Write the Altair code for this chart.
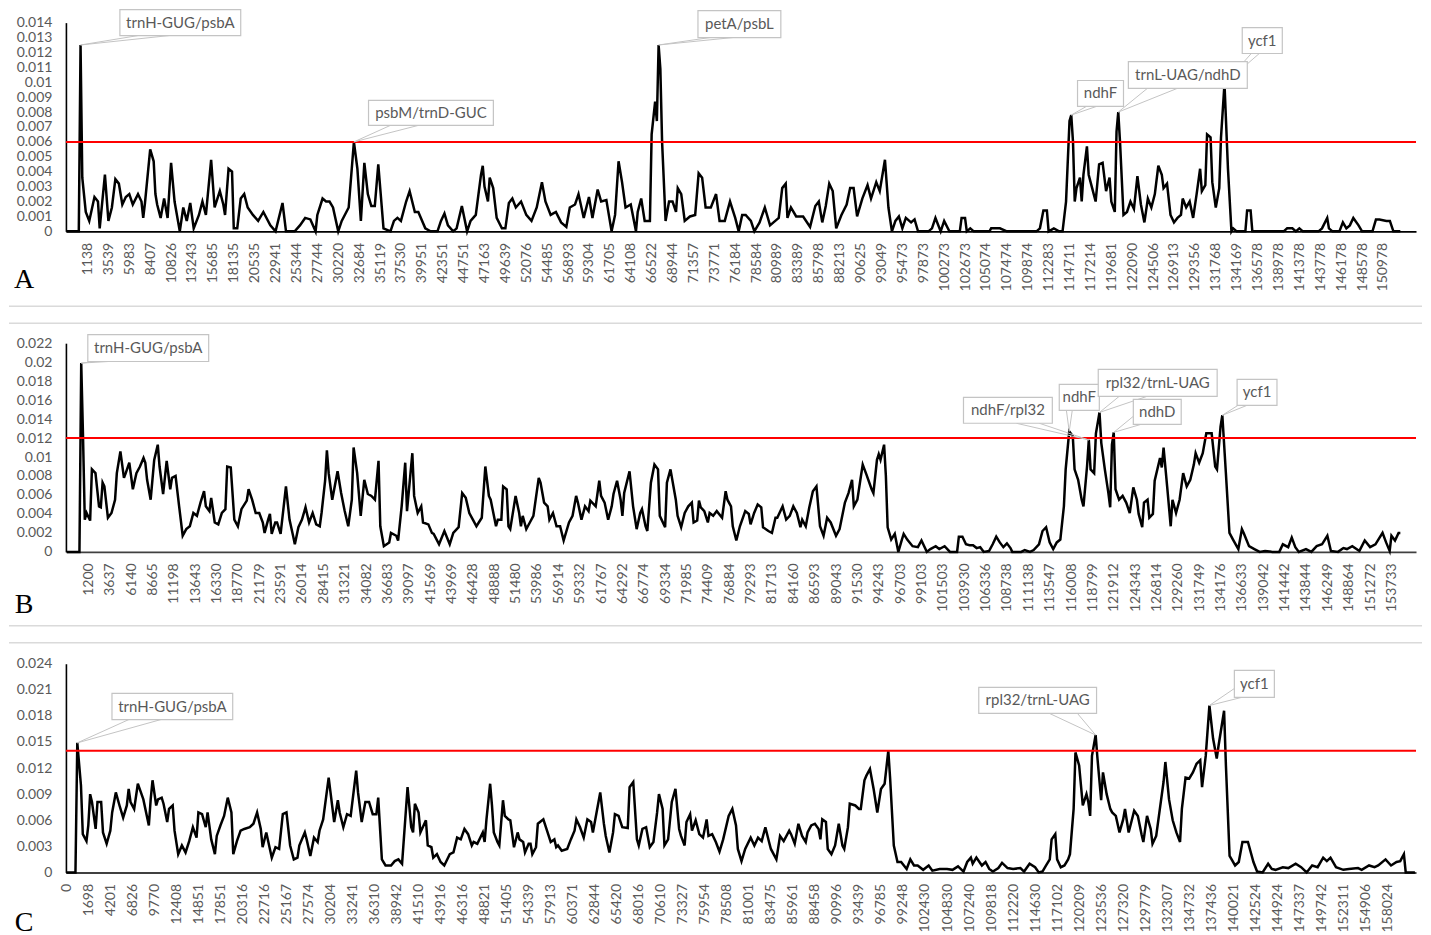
import altair as alt
import pandas as pd

# ---------------- Panel A ----------------
W_A = [-12, -5, -4, -3, -1, 1, 4, 6, 7, 10,
       12, 14, 16, 18, 20, 22, 24, 26, 29, 31,
       32, 33, 36, 38, 39, 40, 42, 44, 46, 48,
       50, 53, 55, 57, 59, 61, 64, 66, 68, 71,
       73, 76, 78, 79, 81, 83, 84, 86, 88, 90,
       92, 95, 98, 101, 105, 108, 112, 114, 119, 122,
       125, 128, 131, 132, 135, 137, 139, 141, 144, 146,
       150, 153, 155, 157, 159, 161, 163, 165, 167, 170,
       174, 176, 178, 180, 183, 185, 188, 190, 194, 197,
       201, 203, 205, 207, 210, 212, 215, 218, 220, 223,
       226, 227, 228, 230, 231, 233, 235, 238, 240, 242,
       244, 246, 249, 252, 255, 258, 261, 263, 266, 269,
       272, 275, 277, 280, 282, 285, 288, 290, 293, 295,
       298, 301, 303, 305, 307, 309, 312, 315, 316, 318,
       320, 323, 324, 326, 327, 328, 329, 330, 332, 334,
       336, 338, 339, 341, 343, 346, 349, 351, 353, 355,
       358, 361, 363, 366, 369, 372, 374, 376, 378, 381,
       383, 386, 389, 392, 395, 397, 399, 401, 402, 404,
       407, 411, 415, 418, 420, 422, 424, 426, 428, 430,
       433, 436, 438, 440, 442, 445, 448, 450, 453, 455,
       458, 460, 462, 464, 466, 468, 470, 473, 475, 477,
       483, 485, 487, 490, 492, 495, 501, 502, 504, 505,
       507, 509, 518, 519, 524, 528, 545, 547, 549, 551,
       552, 555, 558, 560, 562, 564, 565, 566, 567, 568,
       570, 571, 572, 574, 575, 577, 579, 581, 583, 585,
       587, 588, 590, 591, 592, 593, 595, 597, 599, 601,
       603, 605, 607, 609, 611, 613, 615, 617, 618, 620,
       622, 624, 626, 628, 629, 631, 633, 635, 637, 639,
       640, 642, 643, 645, 646, 648, 650, 651, 653, 655,
       657, 658, 660, 665, 666, 668, 669, 687, 689, 692,
       694, 696, 698, 707, 709, 712, 713, 715, 719, 721,
       723, 725, 727, 730, 732, 738, 740, 742, 746, 748,
       750, 754]
PI_A = [0, 0, 0.0125, 0.0036, 0.0013, 0.0007, 0.0023, 0.0020, 0.0002, 0.0038,
        0.0007, 0.0016, 0.0035, 0.0032, 0.0018, 0.0023, 0.0025, 0.0018, 0.0025, 0.0020,
        0.0009, 0.0019, 0.0055, 0.0047, 0.0025, 0.0018, 0.0009, 0.0022, 0.0009, 0.0046,
        0.0020, 0, 0.0016, 0.0007, 0.0019, 0.0002, 0.0011, 0.0020, 0.0011, 0.0048,
        0.0016, 0.0027, 0.0018, 0.0011, 0.0042, 0.0040, 0.0002, 0.0002, 0.0022, 0.0025,
        0.0016, 0.0011, 0.0007, 0.0013, 0.0004, 0, 0.0019, 0, 0, 0.0004,
        0.0009, 0.0008, 0, 0.0011, 0.0022, 0.0020, 0.0020, 0.0016, 0, 0.0007,
        0.0016, 0.0060, 0.0042, 0.0007, 0.0046, 0.0025, 0.0017, 0.0017, 0.0045, 0.0002,
        0, 0.0007, 0.0009, 0.0007, 0.0020, 0.0027, 0.0013, 0.0013, 0.0002, 0,
        0, 0.0007, 0.0012, 0.0004, 0, 0.0002, 0.0017, 0, 0.0007, 0.0011,
        0.0038, 0.0044, 0.0030, 0.0020, 0.0036, 0.0029, 0.0009, 0.0002, 0.0002, 0.0019,
        0.0022, 0.0016, 0.0020, 0.0011, 0.0007, 0.0016, 0.0033, 0.0020, 0.0011, 0.0013,
        0.0006, 0.0003, 0.0016, 0.0018, 0.0025, 0.0009, 0.0023, 0.0009, 0.0028, 0.0020,
        0.0021, 0, 0.0011, 0.0047, 0.0033, 0.0016, 0.0018, 0, 0.0013, 0.0022,
        0.0007, 0.0007, 0.0065, 0.0087, 0.0074, 0.0125, 0.0109, 0.0060, 0.0007, 0.0020,
        0.0020, 0.0013, 0.0029, 0.0025, 0.0007, 0.0010, 0.0011, 0.0039, 0.0036, 0.0016,
        0.0016, 0.0025, 0.0007, 0.0007, 0.0020, 0.0009, 0, 0.0011, 0.0011, 0.0007,
        0, 0.0006, 0.0016, 0.0004, 0.0007, 0.0009, 0.0029, 0.0032, 0.0009, 0.0016,
        0.0010, 0.0010, 0.0003, 0.0017, 0.0020, 0.0006, 0.0017, 0.0032, 0.0027, 0.0002,
        0.0011, 0.0018, 0.0029, 0.0029, 0.0010, 0.0022, 0.0031, 0.0022, 0.0033, 0.0027,
        0.0048, 0.0016, 0, 0.0007, 0.0010, 0.0002, 0.0009, 0.0006, 0.0008, 0,
        0, 0.0002, 0.0009, 0, 0.0007, 0, 0, 0.0009, 0.0009, 0,
        0.0002, 0, 0, 0.0002, 0.0002, 0, 0, 0.0002, 0.0014, 0.0014,
        0, 0.0002, 0, 0, 0.0020, 0.0074, 0.0078, 0.0060, 0.0020, 0.0029,
        0.0036, 0.0020, 0.0038, 0.0057, 0.0038, 0.0029, 0.0020, 0.0045, 0.0046, 0.0027,
        0.0036, 0.0020, 0.0013, 0.0067, 0.0080, 0.0060, 0.0011, 0.0013, 0.0020, 0.0015,
        0.0037, 0.0018, 0.0006, 0.0022, 0.0016, 0.0025, 0.0044, 0.0038, 0.0029, 0.0032,
        0.0011, 0.0006, 0.0009, 0.0011, 0.0022, 0.0016, 0.0020, 0.0009, 0.0025, 0.0042,
        0.0027, 0.0031, 0.0065, 0.0063, 0.0033, 0.0016, 0.0029, 0.0063, 0.0099, 0.0042,
        0, 0.0002, 0, 0, 0.0014, 0.0014, 0, 0, 0.0002, 0.0002,
        0, 0.0002, 0, 0, 0.0002, 0.0009, 0.0002, 0, 0, 0.0006,
        0.0002, 0.0004, 0.0009, 0.0004, 0, 0, 0.0008, 0.0008, 0.0007, 0.0007,
        0, 0]
LABELS_A = ["1138", "3539", "5983", "8407", "10826", "13243", "15685", "18135", "20535",
            "22941", "25344", "27744", "30220", "32684", "35119", "37530", "39951", "42351",
            "44751", "47163", "49639", "52076", "54485", "56893", "59304", "61705", "64108",
            "66522", "68944", "71357", "73771", "76184", "78584", "80989", "83389", "85798",
            "88213", "90625", "93049", "95473", "97873", "100273", "102673", "105074",
            "107474", "109874", "112283", "114711", "117214", "119681", "122090", "124506",
            "126913", "129356", "131768", "134169", "136578", "138978", "141378", "143778",
            "146178", "148578", "150978"]
YTICKS_A = [0, 0.001, 0.002, 0.003, 0.004, 0.005, 0.006, 0.007, 0.008, 0.009,
            0.01, 0.011, 0.012, 0.013, 0.014]
THRESH_A = 0.006

# ---------------- Panel B ----------------
W_B = [-12, -5, -4, -3, -2, -1, 1, 2, 4, 6,
       7, 8, 9, 11, 13, 15, 16, 18, 20, 21,
       23, 25, 27, 29, 31, 32, 33, 35, 37, 39,
       40, 42, 44, 46, 47, 49, 51, 53, 55, 57,
       59, 61, 63, 65, 66, 68, 69, 71, 73, 75,
       77, 78, 80, 82, 84, 86, 89, 90, 92, 94,
       96, 98, 99, 101, 102, 103, 105, 106, 108, 111,
       113, 115, 116, 118, 120, 122, 124, 126, 128, 130,
       131, 133, 134, 135, 137, 140, 142, 144, 146, 148,
       149, 151, 153, 155, 157, 159, 161, 163, 164, 166,
       169, 170, 173, 174, 176, 178, 179, 182, 183, 185,
       187, 188, 191, 193, 194, 197, 200, 203, 205, 208,
       210, 212, 214, 216, 218, 221, 223, 225, 226, 229,
       230, 232, 233, 235, 236, 237, 240, 242, 243, 244,
       246, 248, 250, 253, 254, 256, 258, 259, 261, 263,
       265, 267, 270, 272, 274, 275, 277, 279, 281, 282,
       285, 287, 288, 290, 292, 294, 295, 297, 299, 300,
       301, 304, 306, 308, 310, 311, 313, 314, 316, 318,
       320, 321, 324, 325, 327, 330, 331, 333, 335, 337,
       339, 340, 342, 343, 344, 346, 348, 349, 351, 353,
       356, 358, 359, 361, 362, 364, 366, 369, 371, 372,
       374, 376, 378, 379, 382, 384, 386, 387, 390, 392,
       394, 396, 398, 400, 401, 403, 405, 407, 409, 411,
       413, 415, 417, 420, 422, 425, 427, 429, 430, 432,
       434, 435, 437, 440, 441, 443, 444, 445, 447, 448,
       449, 451, 453, 455, 457, 458, 460, 463, 466, 468,
       471, 473, 476, 478, 481, 484, 488, 489, 491, 493,
       495, 497, 499, 501, 503, 506, 508, 510, 512, 514,
       516, 518, 519, 524, 526, 529, 531, 534, 536, 538,
       540, 542, 544, 546, 548, 549, 551, 553, 554, 556,
       558, 559, 561, 562, 563, 565, 566, 568, 569, 571,
       573, 574, 575, 576, 577, 579, 581, 583, 585, 587,
       589, 590, 592, 593, 595, 596, 598, 599, 602, 603,
       604, 606, 608, 609, 611, 613, 615, 617, 619, 621,
       622, 624, 626, 628, 631, 633, 634, 636, 637, 639,
       641, 643, 646, 648, 649, 652, 655, 658, 661, 665,
       669, 671, 674, 676, 678, 680, 684, 687, 690, 693,
       696, 698, 702, 705, 707, 710, 714, 717, 720, 723,
       727, 729, 731, 732, 734, 736, 737]
PI_B = [0, 0, 0.0199, 0.0122, 0.0034, 0.0041, 0.0033, 0.0087, 0.0083, 0.0048,
        0.0047, 0.0073, 0.0069, 0.0036, 0.0041, 0.0055, 0.0083, 0.0106, 0.0078, 0.0083,
        0.0094, 0.0066, 0.0083, 0.0090, 0.0099, 0.0094, 0.0076, 0.0055, 0.0097, 0.0113,
        0.0090, 0.0061, 0.0096, 0.0066, 0.0078, 0.0080, 0.0048, 0.0017, 0.0024, 0.0027,
        0.0041, 0.0038, 0.0052, 0.0064, 0.0048, 0.0043, 0.0057, 0.0031, 0.0029, 0.0041,
        0.0045, 0.0090, 0.0089, 0.0034, 0.0027, 0.0045, 0.0054, 0.0066, 0.0055, 0.0041,
        0.0041, 0.0031, 0.0020, 0.0034, 0.0040, 0.0019, 0.0031, 0.0031, 0.0019, 0.0069,
        0.0034, 0.0017, 0.0008, 0.0026, 0.0034, 0.0047, 0.0031, 0.0041, 0.0029, 0.0027,
        0.0041, 0.0075, 0.0107, 0.0083, 0.0055, 0.0085, 0.0062, 0.0043, 0.0027, 0.0055,
        0.0110, 0.0083, 0.0038, 0.0076, 0.0061, 0.0059, 0.0055, 0.0096, 0.0027, 0.0006,
        0.0010, 0.0020, 0.0017, 0.0012, 0.0048, 0.0094, 0.0043, 0.0104, 0.0059, 0.0041,
        0.0048, 0.0031, 0.0029, 0.0020, 0.0019, 0.0008, 0.0022, 0.0008, 0.0020, 0.0026,
        0.0062, 0.0057, 0.0041, 0.0034, 0.0027, 0.0036, 0.0090, 0.0059, 0.0055, 0.0027,
        0.0034, 0.0034, 0.0069, 0.0066, 0.0027, 0.0024, 0.0059, 0.0041, 0.0027, 0.0038,
        0.0024, 0.0031, 0.0038, 0.0078, 0.0073, 0.0052, 0.0048, 0.0034, 0.0041, 0.0027,
        0.0027, 0.0012, 0.0031, 0.0038, 0.0059, 0.0052, 0.0034, 0.0048, 0.0043, 0.0054,
        0.0048, 0.0075, 0.0059, 0.0052, 0.0034, 0.0048, 0.0061, 0.0075, 0.0055, 0.0038,
        0.0062, 0.0085, 0.0048, 0.0024, 0.0041, 0.0045, 0.0027, 0.0022, 0.0073, 0.0092,
        0.0087, 0.0038, 0.0026, 0.0073, 0.0087, 0.0055, 0.0038, 0.0026, 0.0041, 0.0048,
        0.0052, 0.0031, 0.0033, 0.0054, 0.0047, 0.0043, 0.0031, 0.0041, 0.0038, 0.0043,
        0.0036, 0.0064, 0.0055, 0.0048, 0.0027, 0.0012, 0.0027, 0.0043, 0.0040, 0.0029,
        0.0041, 0.0050, 0.0047, 0.0026, 0.0022, 0.0020, 0.0036, 0.0036, 0.0048, 0.0034,
        0.0038, 0.0048, 0.0041, 0.0026, 0.0034, 0.0027, 0.0047, 0.0064, 0.0069, 0.0027,
        0.0017, 0.0036, 0.0031, 0.0017, 0.0024, 0.0052, 0.0062, 0.0076, 0.0048, 0.0055,
        0.0080, 0.0092, 0.0082, 0.0066, 0.0062, 0.0097, 0.0103, 0.0097, 0.0113, 0.0080,
        0.0026, 0.0013, 0.0019, 0, 0.0013, 0.0019, 0.0013, 0.0006, 0.0005, 0.0012,
        0, 0.0003, 0.0006, 0.0003, 0.0006, 0, 0, 0.0016, 0.0016, 0.0008,
        0.0007, 0.0007, 0.0004, 0.0005, 0, 0.0001, 0.0008, 0.0016, 0.0010, 0.0005,
        0.0009, 0.0004, 0, 0, 0.0002, 0, 0.0002, 0.0008, 0.0022, 0.0026,
        0.0010, 0.0003, 0.0010, 0.0013, 0.0048, 0.0087, 0.0127, 0.0122, 0.0087, 0.0076,
        0.0055, 0.0048, 0.0090, 0.0118, 0.0087, 0.0083, 0.0125, 0.0147, 0.0115, 0.0087,
        0.0062, 0.0047, 0.0113, 0.0126, 0.0066, 0.0055, 0.0059, 0.0052, 0.0041, 0.0068,
        0.0055, 0.0040, 0.0026, 0.0052, 0.0055, 0.0036, 0.0040, 0.0075, 0.0099, 0.0089,
        0.0110, 0.0069, 0.0027, 0.0055, 0.0041, 0.0055, 0.0083, 0.0069, 0.0076, 0.0092,
        0.0104, 0.0094, 0.0104, 0.0125, 0.0125, 0.0090, 0.0087, 0.0132, 0.0144, 0.0083,
        0.0020, 0.0013, 0.0003, 0.0024, 0.0020, 0.0006, 0.0003, 0, 0.0001, 0,
        0, 0.0008, 0.0005, 0.0015, 0.0005, 0, 0.0003, 0, 0.0006, 0.0008,
        0.0017, 0.0001, 0, 0.0004, 0.0003, 0.0006, 0.0001, 0.0012, 0.0005, 0.0008,
        0.0020, 0.0010, 0.0001, 0.0017, 0.0012, 0.0020, 0.0020]
LABELS_B = ["1200", "3637", "6140", "8665", "11198", "13643", "16330", "18770", "21179",
            "23591", "26014", "28415", "31321", "34082", "36683", "39097", "41569", "43969",
            "46428", "48888", "51480", "53986", "56914", "59332", "61767", "64292", "66774",
            "69334", "71985", "74409", "76884", "79293", "81713", "84160", "86593", "89043",
            "91530", "94243", "96703", "99103", "101503", "103930", "106336", "108738",
            "111138", "113547", "116008", "118799", "121912", "124343", "126814", "129260",
            "131749", "134176", "136633", "139042", "141442", "143844", "146249", "148864",
            "151272", "153733"]
YTICKS_B = [0, 0.002, 0.004, 0.006, 0.008, 0.01, 0.012, 0.014, 0.016, 0.018, 0.02, 0.022]
THRESH_B = 0.012

# ---------------- Panel C ----------------
W_C = [0, 5, 6, 8, 9, 11, 12, 13, 14, 16,
       17, 19, 20, 22, 24, 25, 27, 29, 31, 33,
       34, 35, 37, 39, 40, 42, 45, 46, 47, 49,
       50, 52, 53, 55, 56, 58, 59, 61, 63, 65,
       67, 69, 71, 72, 74, 76, 77, 79, 81, 82,
       84, 86, 88, 90, 91, 93, 95, 97, 100, 102,
       104, 106, 107, 109, 112, 114, 116, 118, 120, 122,
       124, 126, 127, 130, 131, 133, 135, 137, 138, 140,
       143, 144, 146, 148, 149, 151, 153, 155, 158, 159,
       161, 163, 165, 167, 169, 170, 172, 174, 177, 179,
       181, 183, 186, 188, 189, 190, 192, 193, 196, 197,
       199, 200, 202, 204, 206, 209, 211, 213, 215, 217,
       219, 221, 222, 224, 227, 228, 229, 231, 232, 233,
       235, 236, 238, 239, 241, 242, 244, 246, 247, 249,
       250, 252, 253, 254, 256, 257, 260, 262, 264, 266,
       267, 268, 270, 273, 275, 277, 278, 280, 282, 284,
       286, 287, 289, 291, 293, 294, 296, 298, 299, 301,
       303, 306, 307, 309, 311, 312, 314, 316, 318, 320,
       322, 323, 325, 326, 328, 330, 332, 334, 335, 337,
       338, 340, 341, 343, 345, 347, 349, 350, 352, 354,
       356, 358, 361, 363, 365, 366, 368, 370, 373, 375,
       377, 379, 381, 383, 384, 387, 389, 391, 394, 395,
       397, 399, 401, 403, 404, 406, 408, 410, 411, 412,
       414, 415, 417, 419, 421, 423, 424, 426, 427, 430,
       432, 433, 435, 436, 438, 440, 442, 444, 446, 448,
       449, 451, 453, 455, 458, 460, 462, 464, 467, 470,
       472, 476, 480, 483, 486, 489, 491, 493, 494, 496,
       499, 501, 503, 505, 508, 510, 513, 516, 520, 522,
       525, 528, 530, 532, 534, 536, 537, 539, 540, 542,
       544, 546, 547, 549, 550, 552, 554, 556, 557, 558,
       559, 561, 562, 564, 565, 567, 569, 570, 572, 574,
       576, 577, 579, 582, 584, 586, 587, 589, 591, 592,
       594, 596, 598, 599, 601, 603, 605, 607, 608, 610,
       612, 614, 616, 618, 619, 621, 623, 625, 627, 628,
       631, 632, 634, 637, 639, 641, 644, 647, 649, 652,
       655, 657, 659, 663, 666, 670, 673, 676, 679, 682,
       685, 687, 689, 692, 696, 699, 704, 706, 710, 713,
       715, 719, 722, 725, 727, 729, 730, 735]
PI_C = [0, 0, 0.0149, 0.0100, 0.0044, 0.0036, 0.0054, 0.0090, 0.0081, 0.0050,
        0.0081, 0.0081, 0.0046, 0.0033, 0.0048, 0.0069, 0.0092, 0.0077, 0.0063, 0.0077,
        0.0096, 0.0081, 0.0073, 0.0102, 0.0096, 0.0084, 0.0054, 0.0084, 0.0106, 0.0077,
        0.0084, 0.0086, 0.0079, 0.0058, 0.0073, 0.0077, 0.0048, 0.0021, 0.0031, 0.0023,
        0.0036, 0.0052, 0.0040, 0.0069, 0.0067, 0.0052, 0.0069, 0.0038, 0.0021, 0.0042,
        0.0054, 0.0065, 0.0086, 0.0069, 0.0021, 0.0036, 0.0048, 0.0050, 0.0052, 0.0056,
        0.0069, 0.0050, 0.0029, 0.0046, 0.0017, 0.0029, 0.0027, 0.0067, 0.0069, 0.0031,
        0.0015, 0.0017, 0.0031, 0.0046, 0.0038, 0.0019, 0.0040, 0.0035, 0.0048, 0.0061,
        0.0109, 0.0092, 0.0058, 0.0083, 0.0069, 0.0052, 0.0067, 0.0065, 0.0117, 0.0092,
        0.0058, 0.0081, 0.0081, 0.0067, 0.0067, 0.0086, 0.0015, 0.0008, 0.0008, 0.0013,
        0.0015, 0.0010, 0.0098, 0.0052, 0.0046, 0.0079, 0.0069, 0.0046, 0.0060, 0.0031,
        0.0029, 0.0017, 0.0021, 0.0012, 0.0008, 0.0021, 0.0023, 0.0040, 0.0038, 0.0050,
        0.0044, 0.0031, 0.0035, 0.0033, 0.0046, 0.0035, 0.0061, 0.0102, 0.0077, 0.0046,
        0.0035, 0.0031, 0.0083, 0.0065, 0.0061, 0.0060, 0.0029, 0.0046, 0.0038, 0.0035,
        0.0023, 0.0033, 0.0033, 0.0021, 0.0029, 0.0056, 0.0061, 0.0048, 0.0035, 0.0038,
        0.0029, 0.0031, 0.0025, 0.0027, 0.0038, 0.0048, 0.0061, 0.0052, 0.0040, 0.0061,
        0.0058, 0.0046, 0.0069, 0.0092, 0.0056, 0.0042, 0.0023, 0.0046, 0.0067, 0.0065,
        0.0052, 0.0051, 0.0098, 0.0104, 0.0038, 0.0031, 0.0050, 0.0052, 0.0029, 0.0035,
        0.0069, 0.0090, 0.0073, 0.0031, 0.0038, 0.0081, 0.0096, 0.0050, 0.0042, 0.0031,
        0.0058, 0.0067, 0.0048, 0.0060, 0.0044, 0.0040, 0.0061, 0.0042, 0.0044, 0.0035,
        0.0024, 0.0038, 0.0065, 0.0073, 0.0054, 0.0027, 0.0013, 0.0027, 0.0040, 0.0031,
        0.0040, 0.0036, 0.0052, 0.0035, 0.0027, 0.0015, 0.0042, 0.0036, 0.0048, 0.0044,
        0.0033, 0.0056, 0.0042, 0.0035, 0.0046, 0.0054, 0.0056, 0.0050, 0.0038, 0.0061,
        0.0058, 0.0027, 0.0021, 0.0031, 0.0056, 0.0031, 0.0027, 0.0052, 0.0079, 0.0077,
        0.0073, 0.0073, 0.0106, 0.0111, 0.0119, 0.0096, 0.0069, 0.0096, 0.0102, 0.0140,
        0.0108, 0.0031, 0.0012, 0.0012, 0.0004, 0.0015, 0.0008, 0.0008, 0.0003, 0.0008,
        0.0002, 0.0004, 0.0004, 0.0003, 0.0007, 0.0001, 0.0012, 0.0017, 0.0010, 0.0017,
        0.0008, 0.0012, 0.0004, 0.0001, 0.0005, 0.0011, 0.0005, 0.0004, 0.0005, 0.0001,
        0.0010, 0.0006, 0, 0.0001, 0.0008, 0.0015, 0.0038, 0.0044, 0.0015, 0.0006,
        0.0008, 0.0015, 0.0021, 0.0073, 0.0138, 0.0123, 0.0077, 0.0090, 0.0081, 0.0065,
        0.0134, 0.0158, 0.0131, 0.0083, 0.0115, 0.0090, 0.0073, 0.0069, 0.0065, 0.0046,
        0.0061, 0.0073, 0.0046, 0.0071, 0.0065, 0.0044, 0.0035, 0.0065, 0.0050, 0.0033,
        0.0042, 0.0073, 0.0104, 0.0127, 0.0084, 0.0060, 0.0046, 0.0035, 0.0073, 0.0109,
        0.0108, 0.0115, 0.0125, 0.0129, 0.0098, 0.0134, 0.0192, 0.0154, 0.0131, 0.0146,
        0.0186, 0.0123, 0.0019, 0.0008, 0.0012, 0.0035, 0.0035, 0.0012, 0.0001, 0,
        0.0010, 0.0004, 0.0003, 0.0006, 0.0005, 0.0010, 0.0006, 0, 0.0008, 0.0006,
        0.0017, 0.0013, 0.0017, 0.0006, 0.0003, 0.0004, 0.0005, 0.0003, 0.0008, 0.0006,
        0.0008, 0.0015, 0.0008, 0.0012, 0.0013, 0.0021, 0, 0]
LABELS_C = ["0", "1698", "4201", "6826", "9770", "12408", "14851", "17851", "20316",
            "22716", "25167", "27574", "30204", "33241", "36310", "38942", "41510", "43916",
            "46316", "48821", "51405", "54339", "57913", "60371", "62844", "65420", "68016",
            "70610", "73327", "75954", "78508", "81001", "83475", "85961", "88458", "90996",
            "93439", "96785", "99248", "102430", "104830", "107240", "109818", "112220",
            "114630", "117102", "120209", "123536", "127320", "129779", "132307", "134732",
            "137436", "140021", "142524", "144924", "147337", "149742", "152311", "154906",
            "158024"]
YTICKS_C = [0, 0.003, 0.006, 0.009, 0.012, 0.015, 0.018, 0.021, 0.024]
THRESH_C = 0.014

# Callouts: text, window of the pointed peak, box (w1, w2, v1, v2), tail base points
CALLOUTS_A = [
    ("trnH-GUG/psbA", -4, 18.6, 88.0, 0.01313, 0.01487, 28.9, 0.01313, 46.7, 0.01313),
    ("psbM/trnD-GUC", 153, 161.4, 233.1, 0.00711, 0.00878, 174.0, 0.00711, 190.1, 0.00711),
    ("petA/psbL", 328, 350.6, 398.2, 0.0130, 0.0148, 357.5, 0.0130, 370.7, 0.0130),
    ("ndhF", 565, 568.6, 595.0, 0.00838, 0.01012, 573.7, 0.00838, 579.5, 0.00838),
    ("trnL-UAG/ndhD", 592, 597.8, 666.1, 0.00959, 0.01139, 608.7, 0.00959, 625.9, 0.00959),
    ("ycf1", 653, 663.2, 686.2, 0.01193, 0.01367, 668.4, 0.01193, 673.0, 0.01193),
]
CALLOUTS_B = [
    ("trnH-GUG/psbA", -4, -0.3, 67.6, 0.02007, 0.02291, 4.2, 0.02007, 11.5, 0.02007),
    ("ndhF/rpl32", 562, 491.6, 541.5, 0.01356, 0.01629, 521.3, 0.01356, 534.2, 0.01356),
    ("ndhF", 551, 545.4, 567.9, 0.01492, 0.01766, 549.4, 0.01492, 552.7, 0.01492),
    ("rpl32/trnL-UAG", 568, 567.3, 634.1, 0.0164, 0.01923, 579.1, 0.0164, 594.8, 0.0164),
    ("ndhD", 576, 587.0, 613.9, 0.01345, 0.01608, 587.0, 0.01429, 591.5, 0.01345),
    ("ycf1", 637, 645.3, 667.7, 0.01545, 0.01818, 645.8, 0.01545, 650.9, 0.01545),
]
CALLOUTS_C = [
    ("trnH-GUG/psbA", 6, 24.9, 90.7, 0.01758, 0.02058, 34.1, 0.01758, 51.6, 0.01758),
    ("rpl32/trnL-UAG", 561, 497.3, 561.5, 0.01828, 0.02127, 535.9, 0.01828, 551.1, 0.01828),
    ("ycf1", 623, 636.6, 658.4, 0.02012, 0.02323, 636.6, 0.02115, 640.4, 0.02012),
]

FONT = "Lato"
GRAY = "#595959"
PW = 1352
PH = 209


def panel(W, PI, labels, yticks, ymax, xdom, thresh, callouts, letter, letter_y, seps, xcolor):
    data = pd.DataFrame({"w": W, "pi": PI})
    lookup = dict(zip(W, PI))
    xs = alt.Scale(domain=xdom, nice=False, zero=False)
    ys = alt.Scale(domain=[0, ymax], nice=False, zero=False)
    expr = "[" + ",".join("'%s'" % s for s in labels) + "][round(datum.value / 12)]"
    xaxis = alt.Axis(values=[12 * k for k in range(len(labels))], labelExpr=expr, title=None,
                     tickCount=200, labelAngle=-90, labelAlign="right", labelBaseline="middle",
                     labelPadding=11, labelFont=FONT, labelFontSize=14, labelColor=GRAY,
                     ticks=False, tickSize=0, domainColor=xcolor, domainWidth=1.6, grid=False,
                     labelOverlap=False, labelFlush=False, labelBound=False)
    yaxis = alt.Axis(values=yticks, format=".3~f", title=None, tickCount=200, labelFont=FONT,
                     labelFontSize=14, labelColor=GRAY, labelPadding=14, ticks=False,
                     tickSize=0, domainColor="black", domainWidth=1.6, grid=False,
                     labelOverlap=False)

    layers = []
    one = pd.DataFrame({"a": [0]})
    for s in seps:
        layers.append(alt.Chart(one).mark_rule(color="#dadada", strokeWidth=1.5).encode(
            x=alt.value(-57), x2=alt.value(1358), y=alt.value(s), y2=alt.value(s)))

    layers.append(alt.Chart(data).mark_line(color="black", strokeWidth=2.5).encode(
        x=alt.X("w:Q", scale=xs, axis=xaxis), y=alt.Y("pi:Q", scale=ys, axis=yaxis)))

    layers.append(alt.Chart(pd.DataFrame({"t": [thresh]})).mark_rule(
        color="#ff0000", strokeWidth=2).encode(y=alt.Y("t:Q", scale=ys)))

    tails, boxes = [], []
    for (text, tip, w1, w2, v1, v2, ax, ay, bx, by) in callouts:
        pv = lookup[tip]
        tails.append({"x": ax, "y": ay, "x2": tip, "y2": pv})
        tails.append({"x": bx, "y": by, "x2": tip, "y2": pv})
        boxes.append({"text": text, "w1": w1, "w2": w2, "v1": v1, "v2": v2,
                      "wc": (w1 + w2) / 2, "vc": (v1 + v2) / 2})
    tdf = pd.DataFrame(tails)
    bdf = pd.DataFrame(boxes)
    layers.append(alt.Chart(tdf).mark_rule(color="#c4c4c4", strokeWidth=1).encode(
        x=alt.X("x:Q", scale=xs), x2="x2:Q",
        y=alt.Y("y:Q", scale=ys), y2="y2:Q"))
    layers.append(alt.Chart(bdf).mark_rect(fill="white", stroke="#c4c4c4", strokeWidth=1.2).encode(
        x=alt.X("w1:Q", scale=xs), x2="w2:Q",
        y=alt.Y("v1:Q", scale=ys), y2="v2:Q"))
    layers.append(alt.Chart(bdf).mark_text(font=FONT, fontSize=15, color=GRAY,
                                           align="center", baseline="middle").encode(
        x=alt.X("wc:Q", scale=xs), y=alt.Y("vc:Q", scale=ys),
        text="text:N"))
    layers.append(alt.Chart(pd.DataFrame({"l": [letter]})).mark_text(
        font="Liberation Serif", fontSize=28, color="black", align="center",
        baseline="alphabetic").encode(x=alt.value(-42), y=alt.value(letter_y), text="l:N"))

    return alt.layer(*layers).properties(width=PW, height=PH)


pA = panel(W_A, PI_A, LABELS_A, YTICKS_A, 0.014, [-12.4, 763.0], THRESH_A, CALLOUTS_A,
           "A", 266, [284], "black")
pB = panel(W_B, PI_B, LABELS_B, YTICKS_B, 0.022, [-12.6, 745.8], THRESH_B, CALLOUTS_B,
           "B", 270, [-20, 283], "#404040")
pC = panel(W_C, PI_C, LABELS_C, YTICKS_C, 0.024, [-0.2, 735.6], THRESH_C, CALLOUTS_C,
           "C", 268, [-21], "black")

chart = alt.vconcat(pA, pB, pC, spacing=112, bounds="flush").properties(
    padding={"left": 0, "right": 0, "top": 0, "bottom": 0}
).configure_view(stroke=None).configure_axis(
    labelOverlap=False, labelFlush=False, labelBound=False, grid=False, ticks=False
)

chart.save("out.html", embed_options={"renderer": "svg", "actions": False})
